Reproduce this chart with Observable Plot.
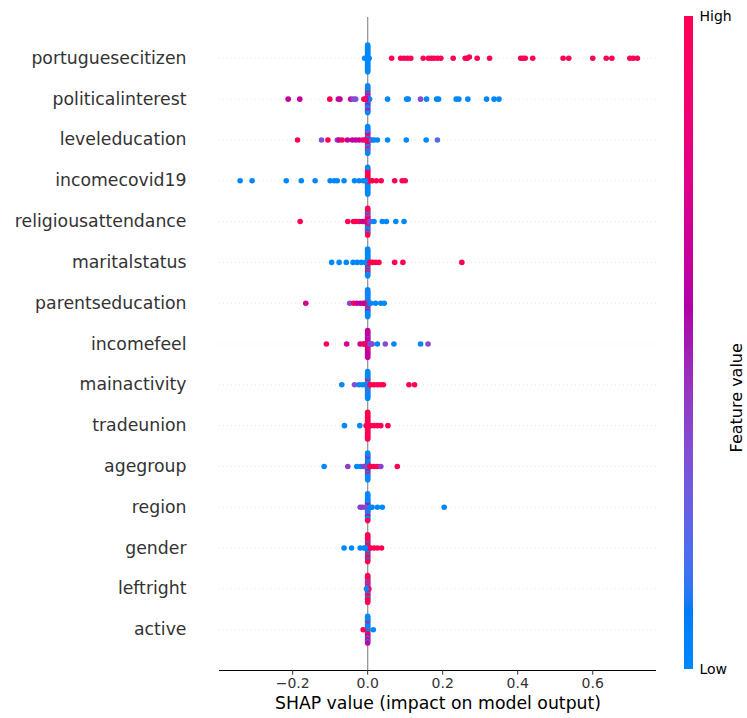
<!DOCTYPE html>
<html>
<head>
<meta charset="utf-8">
<script src="https://cdn.jsdelivr.net/npm/d3@7"></script>
<script src="https://cdn.jsdelivr.net/npm/@observablehq/plot@0.6"></script>
<style>
  body { margin: 0; background: #fff; }
  #wrap { position: relative; width: 747px; height: 718px; font-family: "DejaVu Sans", sans-serif; }
  #wrap svg { position: absolute; top: 0; overflow: visible; }
</style>
</head>
<body>
<div id="wrap"></div>
<script>
// ---------- data: [SHAP value, normalized feature value (0 = low, 1 = high)] ----------
const features = ["portuguesecitizen","politicalinterest","leveleducation","incomecovid19","religiousattendance","maritalstatus","parentseducation","incomefeel","mainactivity","tradeunion","agegroup","region","gender","leftright","active"];

const portuguesecitizen = [[0,0],[0,0],[0,0],[0,0],[0,0],[0,0],[0,0],[0,0],[0,0],[0,0],[0,0],[0,0],[0,0],[0,0],[0,0],[0,0],[0,0],[0,0],[0,0],[0,0],[0,0],[-0.008,0],[0.004,0],
  [0.064,1],[0.088,1],[0.097,1],[0.106,1],[0.115,1],[0.148,1],[0.162,1],[0.170,1],[0.177,1],[0.186,1],[0.195,1],[0.228,1],[0.260,1],[0.266,1],[0.271,1],[0.292,1],[0.325,1],[0.408,1],[0.414,1],[0.420,1],[0.440,1],[0.521,1],[0.536,1],[0.600,1],[0.636,1],[0.651,1],[0.699,1],[0.708,1],[0.719,1]];

const politicalinterest = [[0,1],[0,0.62],[0,0.33],[0,1],[0,0.62],[0,0.62],[0,1],[0,0.33],[0,0],[0,0.62],[0,0.62],[0,0],[0,0],[0,1],[0,0.33],[0,0],[0,0],[0,0],[0,0.62],[0,0],[0,0],[0.005,0],[-0.005,0.62],
  [-0.212,0.62],[-0.181,0.62],[-0.101,1],[-0.078,0.62],[-0.074,0.62],[-0.045,0.62],[-0.038,0.33],[-0.032,0.33],[-0.010,1],[0.053,0],[0.104,0],[0.108,0],[0.141,0.35],[0.157,0],[0.184,0],[0.189,0],[0.236,0],[0.243,0],[0.267,0],[0.317,0],[0.337,0],[0.350,0]];

const leveleducation = [[0,1],[0,0.62],[0,1],[0,1],[0,0.33],[0,0.62],[0,1],[0,0],[0,0.62],[0,1],[0,0],[0,0.62],[0,0.33],[0,0],[0,1],[0,0.33],[0,0],[0,0],[0,0.33],[0,0],[0,0],[-0.007,0.62],[0.007,0],[0.011,0.33],[-0.004,1],
  [-0.187,1],[-0.123,0.33],[-0.106,1],[-0.081,0.33],[-0.076,0.62],[-0.068,1],[-0.054,0.62],[-0.041,0.62],[-0.032,0.62],[-0.023,0.62],[-0.014,0.8],[0.017,0],[0.026,0],[0.053,0],[0.103,0],[0.156,0],[0.186,0.2]];

const incomecovid19 = [[0,1],[0,1],[0,1],[0,1],[0,0],[0,1],[0,1],[0,1],[0,0],[0,1],[0,0],[0,1],[0,0],[0,1],[0,0],[0,1],[0,0],[0,1],[0,0],[0,0],[0,0],[0.006,1],[-0.006,0],[-0.012,0],
  [-0.340,0],[-0.308,0],[-0.217,0],[-0.177,0],[-0.140,0],[-0.100,0],[-0.089,0],[-0.081,0],[-0.063,0],[-0.035,0],[-0.023,0],[0.012,1],[0.023,1],[0.036,1],[0.072,1],[0.092,1],[0.100,1]];

const religiousattendance = [[0,0.33],[0,1],[0,0],[0,1],[0,0.33],[0,1],[0,0],[0,0.62],[0,1],[0,1],[0,0],[0,0.33],[0,0],[0,1],[0,0],[0,0],[0,1],[0,1],[0,0],[0,1],[0,1],[-0.006,1],[0.006,0.33],[-0.009,1],
  [-0.180,1],[-0.053,1],[-0.038,1],[-0.032,1],[-0.023,1],[-0.014,0.62],[0.008,0.33],[0.017,0],[0.039,0],[0.050,0],[0.075,0],[0.097,0]];

const maritalstatus = [[0,0],[0,0],[0,0],[0,0],[0,1],[0,0],[0,0],[0,0],[0,1],[0,0],[0,0],[0,0],[0,1],[0,0],[0,0],[0,0],[0,1],[0,0],[0,0],[0,0],[0,0],[-0.006,0],[0.006,1],
  [-0.096,0],[-0.076,0],[-0.057,0],[-0.039,0],[-0.028,0],[-0.017,0],[0.012,1],[0.021,1],[0.030,1],[0.072,1],[0.094,1],[0.251,1]];

const parentseducation = [[0,0.15],[0,0],[0,1],[0,0.15],[0,0.62],[0,0],[0,0],[0,0.15],[0,1],[0,0],[0,0],[0,0],[0,0.62],[0,0],[0,0],[0,0],[0,0],[0,0.15],[0,0],[0,0],[0,0],[-0.008,1],[0.006,0],[-0.012,0.62],
  [-0.165,0.7],[-0.048,0.35],[-0.038,1],[-0.029,0.62],[-0.020,0.62],[0.008,0],[0.021,0],[0.035,0],[0.044,0]];

const incomefeel = [[0,0.62],[0,0.62],[0,0.62],[0,1],[0,0.62],[0,0.62],[0,0.45],[0,0.62],[0,0.62],[0,0.62],[0,1],[0,0.62],[0,0.62],[0,0.45],[0,0.62],[0,0.62],[0,0.62],[0,0.62],[0,0.62],[0,0.62],[0,0.62],[-0.006,1],[0.006,0.33],[-0.009,0.62],[0.009,0.33],
  [-0.110,1],[-0.056,0.7],[-0.020,0.62],[-0.012,1],[0.012,0.35],[0.026,0],[0.047,0.35],[0.070,0],[0.141,0],[0.161,0.35]];

const mainactivity = [[0,0.33],[0,0],[0,0.33],[0,0],[0,1],[0,0],[0,0.33],[0,0],[0,0],[0,1],[0,0],[0,0],[0,0.33],[0,0],[0,0],[0,0],[0,0],[0,0],[0,0],[0,0],[0,0],[-0.006,0],[0.006,1],
  [-0.069,0],[-0.035,0.33],[-0.023,0],[-0.014,0],[0.008,1],[0.017,1],[0.026,1],[0.035,1],[0.042,1],[0.110,1],[0.125,1]];

const tradeunion = [[0,0],[0,0],[0,1],[0,1],[0,1],[0,1],[0,1],[0,1],[0,1],[0,1],[0,1],[0,1],[0,1],[0,1],[0,1],[0,1],[0,1],[0,1],[0,1],[0,1],[0,1],[0.004,1],[-0.004,1],
  [-0.062,0],[-0.021,0],[0.008,1],[0.017,1],[0.026,1],[0.035,1],[0.054,1]];

const agegroup = [[0,1],[0,0.62],[0,0],[0,1],[0,0],[0,1],[0,0],[0,0],[0,0.62],[0,0],[0,0],[0,0],[0,1],[0,0],[0,0],[0,0.62],[0,0],[0,0],[0,0],[0,0],[0,0],[-0.006,0],[0.006,1],
  [-0.116,0],[-0.053,0.4],[-0.029,0],[-0.019,0],[-0.010,0.4],[0.008,1],[0.017,1],[0.026,1],[0.035,0.4],[0.079,1]];

const region = [[0,0.33],[0,0.33],[0,0.33],[0,0],[0,0.62],[0,0],[0,0],[0,0.62],[0,0],[0,0],[0,0.33],[0,0],[0,0],[0,0],[0,0.62],[0,0],[0,0],[0,0],[0,0],[0,0],[0,1],[-0.006,0.33],[0.006,0],
  [-0.020,0.4],[-0.014,0.4],[0.012,0],[0.026,0],[0.039,0],[0.204,0]];

const gender = [[0,0],[0,0],[0,0],[0,1],[0,0],[0,0],[0,1],[0,1],[0,0],[0,1],[0,1],[0,0],[0,0],[0,1],[0,1],[0,1],[0,1],[0,1],[0,0],[0,1],[0,1],[0.006,1],[-0.006,0],
  [-0.063,0],[-0.043,0],[-0.020,0],[-0.010,0],[0.008,1],[0.017,1],[0.026,1],[0.037,1]];

const leftright = [[0,0],[0,0],[0,0],[0,0.33],[0,1],[0,1],[0,1],[0,0.33],[0,0],[0,1],[0,1],[0,0.33],[0,1],[0,1],[0,0],[0,0.33],[0,1],[0,1],[0,1],[0,1],[0,1],[0.003,1],[-0.003,0]];

const active = [[0,1],[0,0],[0,1],[0,0],[0,0],[0,0],[0,1],[0,0],[0,1],[0,0],[0,0.62],[0,0],[0,0],[0,1],[0,1],[0,0],[0,0.62],[0,0],[0,0],[0,0],[0,0.62],
  [-0.012,1],[0.015,0]];

const series = [portuguesecitizen, politicalinterest, leveleducation, incomecovid19, religiousattendance, maritalstatus, parentseducation, incomefeel, mainactivity, tradeunion, agegroup, region, gender, leftright, active];

const xTicks = [-0.2, 0, 0.2, 0.4, 0.6];
const xLabel = "SHAP value (impact on model output)";
const colorbarTicks = [{v: 0, label: "Low"}, {v: 1, label: "High"}];
const colorbarLabel = "Feature value";

// ---------- SHAP red_blue colormap (LCH interpolation with a darker middle) ----------
function shapRedBlue(t) {
  const l = t < 0.5 ? 54 - 28 * t : 40 + 28 * (t - 0.5);
  const c = 70 + 20 * t;
  const hRad = 4.6588 + t * (0.35470565 + 2 * Math.PI - 4.6588);
  return d3.hcl(hRad * 180 / Math.PI, c, l).formatHex();
}
const colorOpts = {type: "linear", domain: [0, 1], interpolate: shapRedBlue};

// ---------- beeswarm layout as in shap.summary_plot ----------
function swarmOffsets(vals, nbins = 100, rowHeight = 0.4) {
  const xs = vals.map(d => d[0]);
  const [mn, mx] = d3.extent(xs);
  const quant = xs.map(x => Math.round(nbins * (x - mn) / (mx - mn + 1e-8)));
  const inds = d3.range(xs.length).sort((a, b) => quant[a] - quant[b] || a - b);
  const ys = new Array(xs.length).fill(0);
  let layer = 0, last = -1;
  for (const i of inds) {
    if (quant[i] !== last) layer = 0;
    ys[i] = Math.ceil(layer / 2) * ((layer % 2) * 2 - 1);
    layer++;
    last = quant[i];
  }
  const k = 0.9 * rowHeight / (d3.max(ys) + 1);
  return ys.map(y => y * k);
}

const points = series.flatMap((vals, row) => {
  const offs = swarmOffsets(vals);
  return vals.map((d, j) => ({feature: features[row], shap: d[0], level: d[1], y: row - offs[j]}));
});

const yDomain = [features.length, -1];
const font = "DejaVu Sans";

const main = Plot.plot({
  width: 747,
  height: 718,
  marginLeft: 219,
  marginRight: 91,
  marginTop: 17,
  marginBottom: 48,
  x: {domain: [-0.395, 0.77]},
  y: {domain: yDomain},
  color: colorOpts,
  style: {fontFamily: font, background: "transparent", overflow: "visible"},
  marks: [
    Plot.ruleY(d3.range(features.length), {y: d => d, stroke: "#cccccc", strokeWidth: 0.67, strokeDasharray: "0.67,3.33"}),
    Plot.ruleX([0], {stroke: "#999999", strokeWidth: 1.33}),
    Plot.dot(points, {x: "shap", y: "y", fill: "level", r: 2.8}),
    Plot.axisY(d3.range(features.length), {tickFormat: i => features[i], tickSize: 0, tickPadding: 33, fontSize: 17.3, color: "#333333", label: null}),
    Plot.ruleY([yDomain[0]], {stroke: "#000", strokeWidth: 1.07}),
    Plot.axisX(xTicks, {tickFormat: d3.format(".1f"), tickSize: 4.7, tickPadding: 3, fontSize: 14, color: "#333333", label: null}),
    Plot.text([xLabel], {frameAnchor: "bottom", dy: 38, fontSize: 17.3, fill: "#000"})
  ]
});
main.style.left = "0px";

const n = 256;
const slices = d3.range(n).map(i => i / n);
const bar = Plot.plot({
  width: 67,
  height: 718,
  marginLeft: 4.3,
  marginRight: 53.7,
  marginTop: 16,
  marginBottom: 48.7,
  x: {domain: [0, 1], axis: null},
  y: {domain: [0, 1], axis: null},
  color: colorOpts,
  style: {fontFamily: font, background: "transparent", overflow: "visible"},
  marks: [
    Plot.rect(slices, {x1: 0, x2: 1, y1: d => d, y2: d => d + 1 / n, fill: d => d + 0.5 / n, shapeRendering: "crispEdges"}),
    Plot.text(colorbarTicks, {x: 1, y: "v", text: "label", dx: 5.7, textAnchor: "start", fontSize: 14, fill: "#000"}),
    Plot.text([colorbarLabel], {frameAnchor: "right", dx: 43.5, rotate: -90, fontSize: 16, fill: "#000"})
  ]
});
bar.style.left = "680px";

const wrap = document.getElementById("wrap");
wrap.appendChild(main);
wrap.appendChild(bar);
</script>
</body>
</html>
